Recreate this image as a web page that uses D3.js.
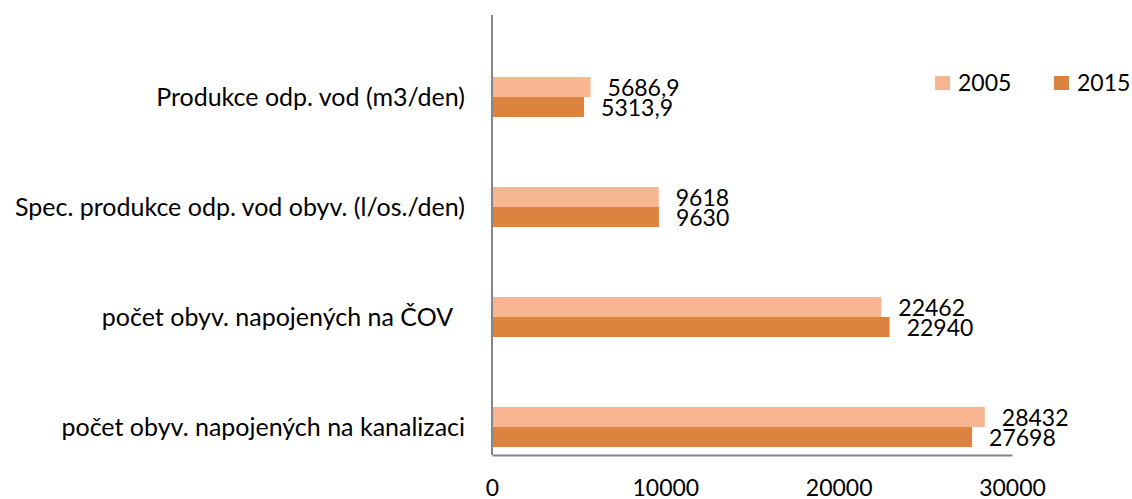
<!DOCTYPE html>
<html lang="cs">
  <head>
    <meta charset="utf-8">
    <title>Odpadní vody</title>
    <script src="https://d3js.org/d3.v7.min.js" charset="utf-8"></script>
    <style>
      body { margin: 0; background: #fff; }
      text { font-family: Lato, "Open Sans", sans-serif; fill: #000; }
    </style>
  </head>
  <body>
    <script>
      // data
      var categories = [
        "Produkce odp. vod (m3/den)",
        "Spec. produkce odp. vod obyv. (l/os./den)",
        "počet obyv. napojených na ČOV  ",
        "počet obyv. napojených na kanalizaci"
      ];
      var years = ["2005", "2015"];
      var values2005 = [5686.9, 9618, 22462, 28432];
      var values2015 = [5313.9, 9630, 22940, 27698];
      var xTicks = [0, 10000, 20000, 30000];
      var colors = ["#f8b592", "#dc843f"];

      var width = 1132,
      height = 499;

      var rows = categories.map(function(c, i) {
        return {name: c, vals: [values2005[i], values2015[i]]};
      });

      var svg = d3.select("body").append("svg")
        .attr("width", width)
        .attr("height", height);

      var x = d3.scaleLinear()
        .domain([0, 30000])
        .range([492, 1012]);

      var y = d3.scaleBand()
        .domain(categories)
        .range([42, 482])
        .paddingInner(0.636)
        .paddingOuter(0.318);

      var ySub = d3.scaleBand()
        .domain(years)
        .range([0, y.bandwidth()]);

      var fmt = function(v) { return String(v).replace(".", ","); };

      var groups = svg.append("g")
        .selectAll("g")
        .data(rows)
        .enter().append("g")
        .attr("transform", function(d) { return "translate(0," + y(d.name) + ")"; });

      groups.selectAll("rect")
        .data(function(d) { return d.vals; })
        .enter().append("rect")
        .attr("x", x(0))
        .attr("y", function(d, i) { return ySub(years[i]); })
        .attr("width", function(d) { return x(d) - x(0); })
        .attr("height", ySub.bandwidth())
        .style("fill", function(d, i) { return colors[i]; });

      groups.selectAll("text")
        .data(function(d) { return d.vals; })
        .enter().append("text")
        .attr("x", function(d) { return x(d) + 17; })
        .attr("y", function(d, i) { return ySub(years[i]) + ySub.bandwidth() / 2 + 1; })
        .attr("dy", "0.35em")
        .style("font-size", "23px")
        .text(fmt);

      // category labels
      svg.append("g")
        .selectAll("text")
        .data(categories)
        .enter().append("text")
        .attr("x", 465)
        .attr("y", function(d) { return y(d) + y.bandwidth() / 2; })
        .attr("dy", "0.35em")
        .attr("text-anchor", "end")
        .style("white-space", "pre")
        .style("font-size", "25px")
        .text(function(d) { return d; });

      // axes
      svg.append("line")
        .attr("x1", x(0)).attr("x2", x(0))
        .attr("y1", 15).attr("y2", 455)
        .style("stroke", "#868686")
        .style("stroke-width", 2);

      var xAxis = svg.append("g")
        .attr("transform", "translate(0,455)")
        .call(d3.axisBottom(x).tickValues(xTicks).tickSize(0).tickPadding(25).tickFormat(d3.format("d")));
      xAxis.select(".domain").style("stroke", "#868686").style("stroke-width", 2);
      xAxis.selectAll("text")
        .style("font-family", "Lato, sans-serif")
        .style("font-size", "23px")
        .style("fill", "#000");

      // legend
      var legend = svg.append("g")
        .selectAll("g")
        .data(years)
        .enter().append("g")
        .attr("transform", function(d, i) { return "translate(" + (935 + i * 119) + ",76)"; });
      legend.append("rect")
        .attr("width", 15)
        .attr("height", 14)
        .style("fill", function(d, i) { return colors[i]; });
      legend.append("text")
        .attr("x", 23)
        .attr("y", 7)
        .attr("dy", "0.35em")
        .style("font-size", "23px")
        .text(function(d) { return d; });
    </script>
  </body>
</html>
